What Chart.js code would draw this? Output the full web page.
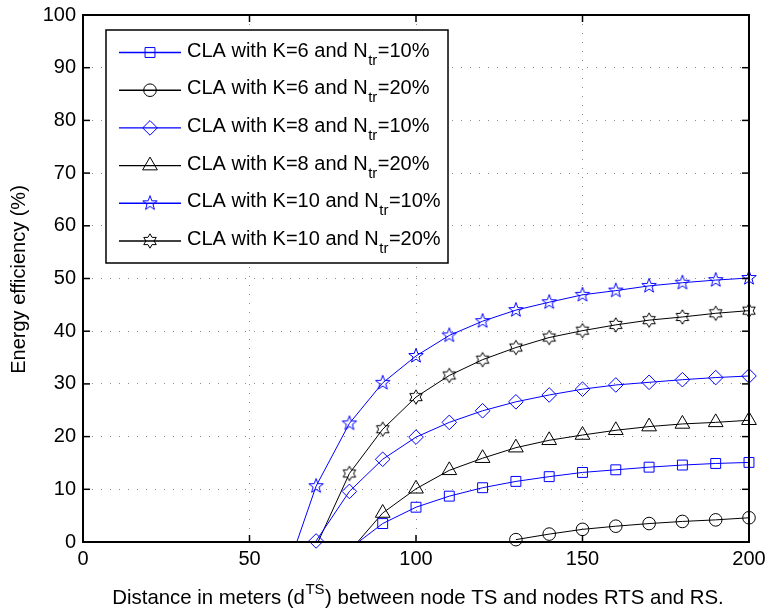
<!DOCTYPE html>
<html><head><meta charset="utf-8">
<script src="https://cdn.jsdelivr.net/npm/chart.js@4/dist/chart.umd.min.js"></script>
<style>html,body{margin:0;padding:0;background:#fff}#wrap{width:767px;height:609px}</style>
</head><body><div id="wrap"><canvas id="c" width="767" height="609"></canvas></div>
<script>
// ---- data ----
const distances = [60, 70, 80, 90, 100, 110, 120, 130, 140, 150, 160, 170, 180, 190, 200];
const k6n10  = [null, null, -1.3, 3.5, 6.6, 8.7, 10.3, 11.5, 12.4, 13.2, 13.7, 14.2, 14.6, 14.9, 15.1];
const k6n20  = [null, null, null, null, null, null, null, 0.45, 1.5, 2.4, 3.0, 3.5, 3.9, 4.2, 4.6];
const k8n10  = [null, 0.2, 9.6, 15.7, 19.9, 22.7, 24.9, 26.6, 27.9, 29.0, 29.8, 30.3, 30.8, 31.2, 31.5];
const k8n20  = [null, null, -1.8, 5.5, 10.1, 13.6, 15.9, 17.9, 19.3, 20.3, 21.2, 21.9, 22.4, 22.7, 23.1];
const k10n10 = [-7.7, 10.6, 22.5, 30.2, 35.3, 39.2, 41.9, 44.0, 45.5, 46.9, 47.7, 48.6, 49.2, 49.7, 50.1];
const k10n20 = [null, -0.8, 13.0, 21.4, 27.5, 31.6, 34.6, 36.9, 38.8, 40.1, 41.2, 42.1, 42.7, 43.4, 43.9];
const legendK   = ['6', '6', '8', '8', '10', '10'];
const legendNtr = ['10%', '20%', '10%', '20%', '10%', '20%'];
const xTicks = [0, 50, 100, 150, 200];
const yTicks = [0, 10, 20, 30, 40, 50, 60, 70, 80, 90, 100];
const xTitleParts = ['Distance in meters (d', 'TS', ') between node TS and nodes RTS and RS.'];
const yTitle = 'Energy efficiency (%)';

// ---- styles ----
const FONT = "'Liberation Sans', Arial, Helvetica, sans-serif";
const BLUE = '#0000ff', BLACK = '#000000';

function starCanvas(n, outerR, innerR, color) {
  const s = 20, c = document.createElement('canvas');
  c.width = s; c.height = s;
  const g = c.getContext('2d');
  g.strokeStyle = color; g.lineWidth = 1; g.beginPath();
  for (let i = 0; i < 2 * n; i++) {
    const r = i % 2 ? innerR : outerR;
    const a = -Math.PI / 2 + i * Math.PI / n;
    const px = s / 2 + r * Math.cos(a), py = s / 2 + r * Math.sin(a);
    if (i) g.lineTo(px, py); else g.moveTo(px, py);
  }
  g.closePath(); g.stroke();
  return c;
}
const pentagram = starCanvas(5, 7.6, 3.1, BLUE);
const hexagram = starCanvas(6, 7.2, 4.15, BLACK);

const series = [
  { data: k6n10,  color: BLUE,  style: 'rect',     r: 7 },
  { data: k6n20,  color: BLACK, style: 'circle',   r: 6.3 },
  { data: k8n10,  color: BLUE,  style: 'rectRot',  r: 7.3 },
  { data: k8n20,  color: BLACK, style: 'triangle', r: 8.5 },
  { data: k10n10, color: BLUE,  style: pentagram,  r: 7 },
  { data: k10n20, color: BLACK, style: hexagram,   r: 7 }
];
const pts = arr => distances.map((d, i) => ({ x: d, y: arr[i] }));

const markerSets = series.map(s => ({
  data: pts(s.data), showLine: false, clip: false,
  borderColor: s.color, backgroundColor: 'rgba(0,0,0,0)',
  pointStyle: s.style, pointBorderWidth: 1,
  pointBackgroundColor: 'rgba(0,0,0,0)', pointBorderColor: s.color,
  pointRadius: ctx => (ctx.raw && ctx.raw.y !== null && ctx.raw.y >= 0) ? s.r : 0,
  pointHoverRadius: ctx => (ctx.raw && ctx.raw.y !== null && ctx.raw.y >= 0) ? s.r : 0
}));
const lineSets = series.map(s => ({
  data: pts(s.data), showLine: true, borderColor: s.color, borderWidth: 1,
  pointRadius: 0, pointHoverRadius: 0, tension: 0, spanGaps: false, fill: false
}));

const TL = 7;
const decor = {
  id: 'decor',
  afterDatasetsDraw(chart) {
    const { ctx, chartArea: a, scales: { x, y } } = chart;
    ctx.save();
    ctx.strokeStyle = '#000';
    ctx.lineWidth = 1.5;
    const line = (x1, y1, x2, y2) => { ctx.beginPath(); ctx.moveTo(x1, y1); ctx.lineTo(x2, y2); ctx.stroke(); };
    xTicks.forEach(v => { const p = x.getPixelForValue(v); line(p, a.bottom, p, a.bottom - TL); line(p, a.top, p, a.top + TL); });
    yTicks.forEach(v => { const p = y.getPixelForValue(v); line(a.left, p, a.left + TL, p); line(a.right, p, a.right - TL, p); });
    ctx.lineWidth = 2;
    ctx.strokeRect(a.left, a.top, a.right - a.left, a.bottom - a.top);

    // legend
    const bx = a.left + 23, by = a.top + 15, bw = 342, bh = 233;
    ctx.fillStyle = '#fff';
    ctx.fillRect(bx, by, bw, bh);
    ctx.lineWidth = 1.5;
    ctx.strokeRect(bx, by, bw, bh);
    series.forEach((s, i) => {
      const cy = by + 22.5 + i * 37.7;
      ctx.strokeStyle = s.color; ctx.lineWidth = 1.4;
      line(bx + 13, cy, bx + 75, cy);
      ctx.lineWidth = 1;
      ctx.fillStyle = 'rgba(0,0,0,0)';
      Chart.helpers.drawPoint(ctx, { pointStyle: s.style, radius: s.r, rotation: 0, borderWidth: 1 }, bx + 44, cy);
      ctx.fillStyle = '#000';
      ctx.textBaseline = 'alphabetic'; ctx.textAlign = 'left';
      let tx = bx + 81;
      const base = cy + 4;
      ctx.font = '20px ' + FONT;
      const t1 = 'CLA with K=' + legendK[i] + ' and N';
      ctx.fillText(t1, tx, base); tx += ctx.measureText(t1).width;
      ctx.font = '15px ' + FONT;
      ctx.fillText('tr', tx + 0.5, base + 8); tx += ctx.measureText('tr').width + 1;
      ctx.font = '20px ' + FONT;
      ctx.fillText('=' + legendNtr[i], tx, base);
    });
    ctx.restore();
  },
  afterDraw(chart) {
    const { ctx, chartArea: a } = chart;
    ctx.save();
    ctx.fillStyle = '#000';
    // y title
    ctx.font = '20px ' + FONT;
    ctx.translate(25, (a.top + a.bottom) / 2 + 1);
    ctx.rotate(-Math.PI / 2);
    ctx.textAlign = 'center'; ctx.textBaseline = 'alphabetic';
    ctx.fillText(yTitle, 0, 0);
    ctx.setTransform(1, 0, 0, 1, 0, 0);
    // x title with superscript
    ctx.textAlign = 'left';
    const F = '20.4px ' + FONT, FS = '15px ' + FONT;
    ctx.font = F;
    const w1 = ctx.measureText(xTitleParts[0]).width, w3 = ctx.measureText(xTitleParts[2]).width;
    ctx.font = FS;
    const w2 = ctx.measureText(xTitleParts[1]).width + 1;
    const total = w1 + w2 + w3;
    let tx = (a.left + a.right) / 2 + 2 - total / 2;
    const base = 604;
    ctx.font = F; ctx.fillText(xTitleParts[0], tx, base); tx += w1;
    ctx.font = FS; ctx.fillText(xTitleParts[1], tx + 0.5, base - 10); tx += w2;
    ctx.font = F; ctx.fillText(xTitleParts[2], tx, base);
    ctx.restore();
  }
};

new Chart(document.getElementById('c'), {
  type: 'line',
  data: { datasets: markerSets.concat(lineSets) },
  options: {
    responsive: false, animation: false, devicePixelRatio: 1,
    layout: { padding: { top: 15, right: 18, left: 0, bottom: 0 } },
    plugins: { legend: { display: false }, tooltip: { enabled: false } },
    events: [],
    scales: {
      x: {
        type: 'linear', min: 0, max: 200,
        afterBuildTicks: s => { s.ticks = xTicks.map(v => ({ value: v })); },
        afterFit: s => { s.height = 67; s.paddingLeft = 0; s.paddingRight = 0; },
        grid: { color: '#8a8a8a', lineWidth: 1, drawTicks: false },
        border: { display: false, dash: [1, 8] },
        ticks: { font: { family: FONT, size: 20 }, color: '#000', padding: 5, maxRotation: 0, autoSkip: false }
      },
      y: {
        type: 'linear', min: 0, max: 100,
        afterBuildTicks: s => { s.ticks = yTicks.map(v => ({ value: v })); },
        afterFit: s => { s.width = 83; s.paddingTop = 0; s.paddingBottom = 0; },
        grid: { color: '#8a8a8a', lineWidth: 1, drawTicks: false },
        border: { display: false, dash: [1, 8] },
        ticks: { font: { family: FONT, size: 20 }, color: '#000', padding: 7, autoSkip: false }
      }
    }
  },
  plugins: [decor]
});
</script>
</body></html>
